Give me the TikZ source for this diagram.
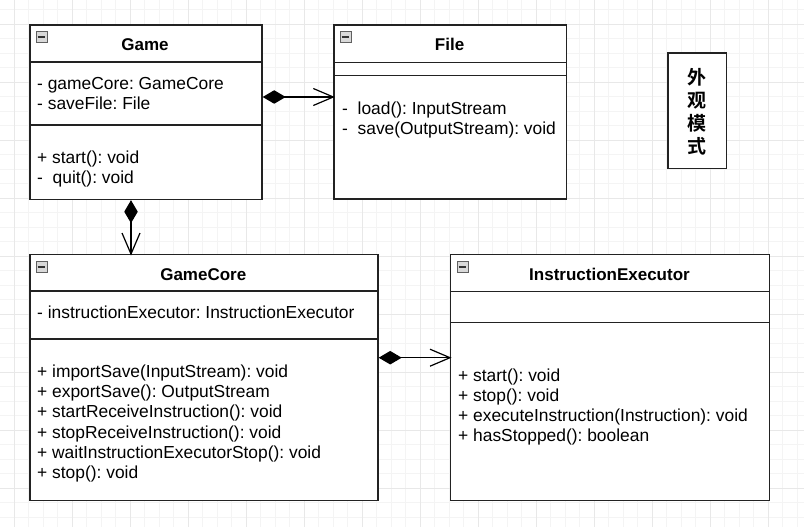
\documentclass[tikz,border=0pt]{standalone}
\usepackage{fontspec}
\setmainfont{Liberation Sans}
\newfontfamily\cjk{Noto Sans CJK SC}[BoldFont=* Bold]
\usetikzlibrary{arrows.meta}
\frenchspacing
\definecolor{gridminor}{RGB}{244,244,244}
\definecolor{gridmajor}{RGB}{232,232,232}
\definecolor{boxline}{RGB}{34,34,34}
\tikzset{
  umlbox/.style={draw=boxline, line width=1.4pt, fill=white, anchor=north west, inner sep=0pt},
  sepline/.style={draw=boxline, line width=1.3pt},
  ttl/.style={font=\fontsize{17}{20}\selectfont\bfseries, anchor=base},
  txt/.style={font=\fontsize{17.4}{20.2}\selectfont, anchor=west, align=left, inner sep=0pt},
  comp/.style={draw=black, line width=1.3pt, {Diamond[length=23pt,width=13.5pt]}-},
  barb/.style={draw=black, line width=1.2pt},
  icon/.style={draw=gray!75!black, fill=gray!30, line width=0.6pt, minimum size=11pt, inner sep=0pt, anchor=north west}
}
\newcommand{\icn}[3]{%
  \node[icon] (#1) at (#2,#3) {};
  \draw[line width=1.6pt, black!80] ([xshift=2.2pt]#1.west) -- ([xshift=-2.2pt]#1.east);
}
\begin{document}
\begin{tikzpicture}[x=1pt,y=-1pt]
\useasboundingbox (0,0) rectangle (804,527);
\fill[white] (0,0) rectangle (804,527);
% grid
\foreach \k in {0,...,55} {
  \pgfmathsetmacro{\xx}{-0.2+14.5*\k}
  \draw[gridminor, line width=0.8pt] (\xx,0) -- (\xx,527);
}
\foreach \k in {0,...,36} {
  \pgfmathsetmacro{\yy}{9.8+14.5*\k}
  \draw[gridminor, line width=0.8pt] (0,\yy) -- (804,\yy);
}
\foreach \k in {0,...,13} {
  \pgfmathsetmacro{\xx}{14.3+58*\k}
  \draw[gridmajor, line width=0.9pt] (\xx,0) -- (\xx,527);
}
\foreach \k in {0,...,8} {
  \pgfmathsetmacro{\yy}{24.3+58*\k}
  \draw[gridmajor, line width=0.9pt] (0,\yy) -- (804,\yy);
}

% Game
\node[umlbox, minimum width=232pt, minimum height=174.5pt] (game) at (29.3,24.3) {};
\draw[sepline] (game.west |- 0,62) -- (game.east |- 0,62);
\draw[sepline] (game.west |- 0,125) -- (game.east |- 0,125);
\node[ttl] (gameT) at (145,50.5) {Game};
\icn{gi}{35.5}{31.5}
\node[txt] (gameA) at (37,93.2) {- gameCore: GameCore\\- saveFile: File};
\node[txt] (gameM) at (37,169) {+ start(): void\\-\ \ quit(): void};

% File
\node[umlbox, minimum width=232.5pt, minimum height=174pt] (file) at (333.3,24.3) {};
\draw[sepline] (file.west |- 0,62.3) -- (file.east |- 0,62.3);
\draw[sepline] (file.west |- 0,75.3) -- (file.east |- 0,75.3);
\node[ttl] (fileT) at (449.6,50.5) {File};
\icn{fi}{339.5}{31.5}
\node[txt] (fileM) at (342,119.7) {-\ \ load(): InputStream\\-\ \ save(OutputStream): void};

% Facade
\node[umlbox, minimum width=58.4pt, minimum height=115.4pt] (facade) at (667.3,52.3) {};
\node[font=\cjk\bfseries\fontsize{19}{23}\selectfont, align=center, inner sep=0pt] (facadeT) at (696.5,111.5) {外\\观\\模\\式};

% GameCore
\node[umlbox, minimum width=348pt, minimum height=246pt] (core) at (29.3,254) {};
\draw[sepline] (core.west |- 0,291) -- (core.east |- 0,291);
\draw[sepline] (core.west |- 0,339) -- (core.east |- 0,339);
\node[ttl] (coreT) at (203.3,280) {GameCore};
\icn{ci}{35.5}{261}
\node[txt] (coreA) at (37,312.5) {- instructionExecutor: InstructionExecutor};
\node[txt] (coreM) at (37,423.5) {+ importSave(InputStream): void\\+ exportSave(): OutputStream\\+ startReceiveInstruction(): void\\+ stopReceiveInstruction(): void\\+ waitInstructionExecutorStop(): void\\+ stop(): void};

% InstructionExecutor
\node[umlbox, minimum width=319pt, minimum height=246pt] (ie) at (450,254) {};
\draw[sepline] (ie.west |- 0,291.7) -- (ie.east |- 0,291.7);
\draw[sepline] (ie.west |- 0,322.7) -- (ie.east |- 0,322.7);
\node[ttl] (ieT) at (609.5,280) {InstructionExecutor};
\icn{ii}{456.5}{261}
\node[txt] (ieM) at (458,407) {+ start(): void\\+ stop(): void\\+ executeInstruction(Instruction): void\\+ hasStopped(): boolean};

% connectors
\coordinate (t1) at (file.west |- 0,97);
\coordinate (t2) at (core.north -| 131,0);
\coordinate (t3) at (ie.west |- 0,357.7);
\draw[comp] (game.east |- 0,97) -- (t1);
\draw[barb] (t1) ++(-20,-8.5) -- (t1) -- ++(-20,8.5);
\draw[comp] (game.south -| 131,0) -- (t2);
\draw[barb] (t2) ++(-9,-21) -- (t2) -- ++(9,-21);
\draw[comp] (core.east |- 0,357.7) -- (t3);
\draw[barb] (t3) ++(-20,-8.5) -- (t3) -- ++(-20,8.5);
\end{tikzpicture}
\end{document}
